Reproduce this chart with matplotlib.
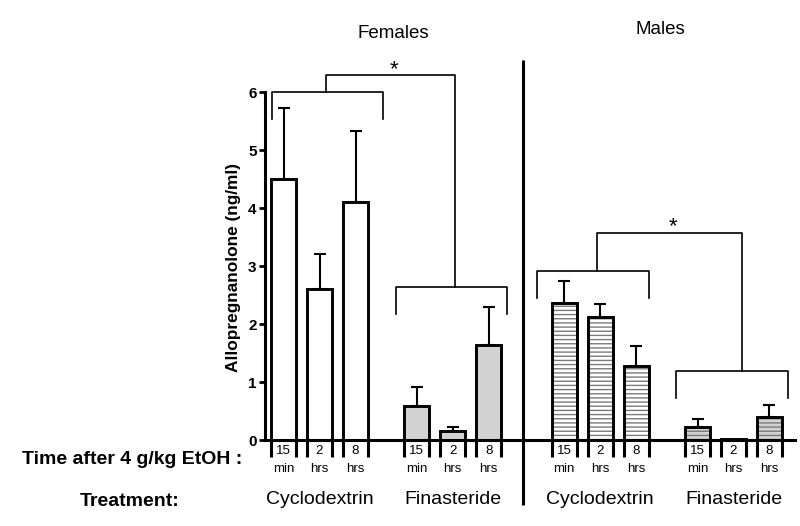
import matplotlib
matplotlib.use("Agg")
import matplotlib.pyplot as plt
import numpy as np

plt.rcParams['font.family'] = ['Liberation Sans', 'DejaVu Sans']
plt.rcParams['hatch.linewidth'] = 1.0

# ---- data ----
sexes = ["Females", "Males"]
treatments = ["Cyclodextrin", "Finasteride", "Cyclodextrin", "Finasteride"]
time_top = ["15", "2", "8"] * 4
time_bottom = ["min", "hrs", "hrs"] * 4
means = [4.50, 2.61, 4.10, 0.59, 0.16, 1.64,
         2.36, 2.12, 1.28, 0.22, 0.02, 0.39]
sems = [1.23, 0.60, 1.22, 0.32, 0.06, 0.66,
        0.38, 0.23, 0.34, 0.14, 0.00, 0.21]
ytick_vals = [0, 1, 2, 3, 4, 5, 6]
ylabel = "Allopregnanolone (ng/ml)"

# layout (positions / styles)
positions = [0, 1, 2, 3.7, 4.7, 5.7, 7.8, 8.8, 9.8, 11.5, 12.5, 13.5]
group_of_bar = [0, 0, 0, 1, 1, 1, 2, 2, 2, 3, 3, 3]
bar_width = 0.7
face_colors = ["white", "#d2d2d2", "white", "#d2d2d2"]
hatches = [None, None, "----", "----"]
bracket_centers = [1.22, 4.67, 8.59, 12.46]
bracket_stems = [1.18, 4.76, 8.71, 12.74]
bracket_tops = [6.0, 2.64, 2.91, 1.19]
connector_heights = [6.29, 3.57]
divider_x = 6.65

W, H = 800, 526
fig = plt.figure(figsize=(W / 100, H / 100), dpi=100)
ax_left, ax_right, ax_bottom, ax_top = 265, 795, 440, 57
ax = fig.add_axes([ax_left / W, (H - ax_bottom) / H,
                   (ax_right - ax_left) / W, (ax_bottom - ax_top) / H])
px_per_unit_x = 36.0
x0_px = 283.5
ax.set_xlim((ax_left - x0_px) / px_per_unit_x, (ax_right - x0_px) / px_per_unit_x)
px_per_unit_y = 58.0
ax.set_ylim(0, (ax_bottom - ax_top) / px_per_unit_y)

def ypx(py):
    return (ax_bottom - py) / px_per_unit_y

# bars
for i, (p, m, s) in enumerate(zip(positions, means, sems)):
    g = group_of_bar[i]
    if hatches[g]:
        ax.bar(p, m, width=bar_width, color=face_colors[g], hatch=hatches[g],
               edgecolor="#7a7a7a", linewidth=0, zorder=2)
        ax.bar(p, m, width=bar_width, fill=False, edgecolor="black",
               linewidth=2.1, zorder=3)
    else:
        ax.bar(p, m, width=bar_width, color=face_colors[g], edgecolor="black",
               linewidth=2.1, zorder=3)
    if s > 0:
        ax.errorbar(p, m, yerr=[[0], [s]], fmt="none", ecolor="black",
                    elinewidth=1.5, capsize=4.3, capthick=1.5, zorder=1)

# below-axis edge lines and time labels
drop = 17 / px_per_unit_y
for i, p in enumerate(positions):
    for e in (p - bar_width / 2, p + bar_width / 2):
        ax.plot([e, e], [0, -drop], color="black", lw=2.2, clip_on=False,
                solid_capstyle="butt", zorder=4)
    ax.text(p, ypx(451), time_top[i], ha="center", va="center",
            fontsize=9.5, clip_on=False)
    ax.text(p, ypx(469.5), time_bottom[i], ha="center", va="center",
            fontsize=9.5, clip_on=False)

# brackets
half = 1.55
leg = 0.47
for c, t in zip(bracket_centers, bracket_tops):
    ax.plot([c - half, c - half, c + half, c + half], [t - leg, t, t, t - leg],
            color="black", lw=1.2, clip_on=False, zorder=5)
for k, hgt in enumerate(connector_heights):
    a, b = bracket_stems[2 * k], bracket_stems[2 * k + 1]
    ta, tb = bracket_tops[2 * k], bracket_tops[2 * k + 1]
    ax.plot([a, a, b, b], [ta, hgt, hgt, tb], color="black", lw=1.2,
            clip_on=False, zorder=5)
    ax.text((a + b) / 2 + 0.1, hgt - 0.08, "*", ha="center", va="bottom",
            fontsize=16, clip_on=False)

# divider
ax.plot([divider_x, divider_x], [ypx(60), ypx(505)],
        color="black", lw=2.2, clip_on=False, solid_capstyle="butt")

# titles
ax.text(3.04, ypx(33), sexes[0], ha="center", va="center", fontsize=13.5,
        clip_on=False)
ax.text(10.46, ypx(29), sexes[1], ha="center", va="center", fontsize=13.5,
        clip_on=False)

# treatment labels
for g in range(4):
    idx = [i for i in range(len(positions)) if group_of_bar[i] == g]
    cx = np.mean([positions[i] for i in idx])
    ax.text(cx, ypx(499), treatments[g], ha="center", va="center",
            fontsize=14, clip_on=False)

fig.text(242 / W, 1 - 460 / H, "Time after 4 g/kg EtOH :", ha="right",
         va="center", fontsize=14, fontweight="bold")
fig.text(130 / W, 1 - 501 / H, "Treatment:", ha="center", va="center",
         fontsize=14, fontweight="bold")

# axes styling
for sp in ("top", "right"):
    ax.spines[sp].set_visible(False)
ax.spines["left"].set_bounds(0, 6)
ax.spines["left"].set_linewidth(2.2)
ax.spines["bottom"].set_linewidth(2.2)
ax.spines["bottom"].set_zorder(6)
ax.set_xticks([])
ax.set_yticks(ytick_vals)
ax.set_yticklabels([str(v) for v in ytick_vals], fontweight="bold", fontsize=11)
ax.tick_params(axis="y", length=4, width=2, pad=2)
ax.set_ylabel(ylabel, fontweight="bold", fontsize=12.4, labelpad=6)
ax.yaxis.set_label_coords(-(ax_left - 241) / (ax_right - ax_left),
                          (ax_bottom - 267.5) / (ax_bottom - ax_top))

fig.savefig("out.png", dpi=100)
